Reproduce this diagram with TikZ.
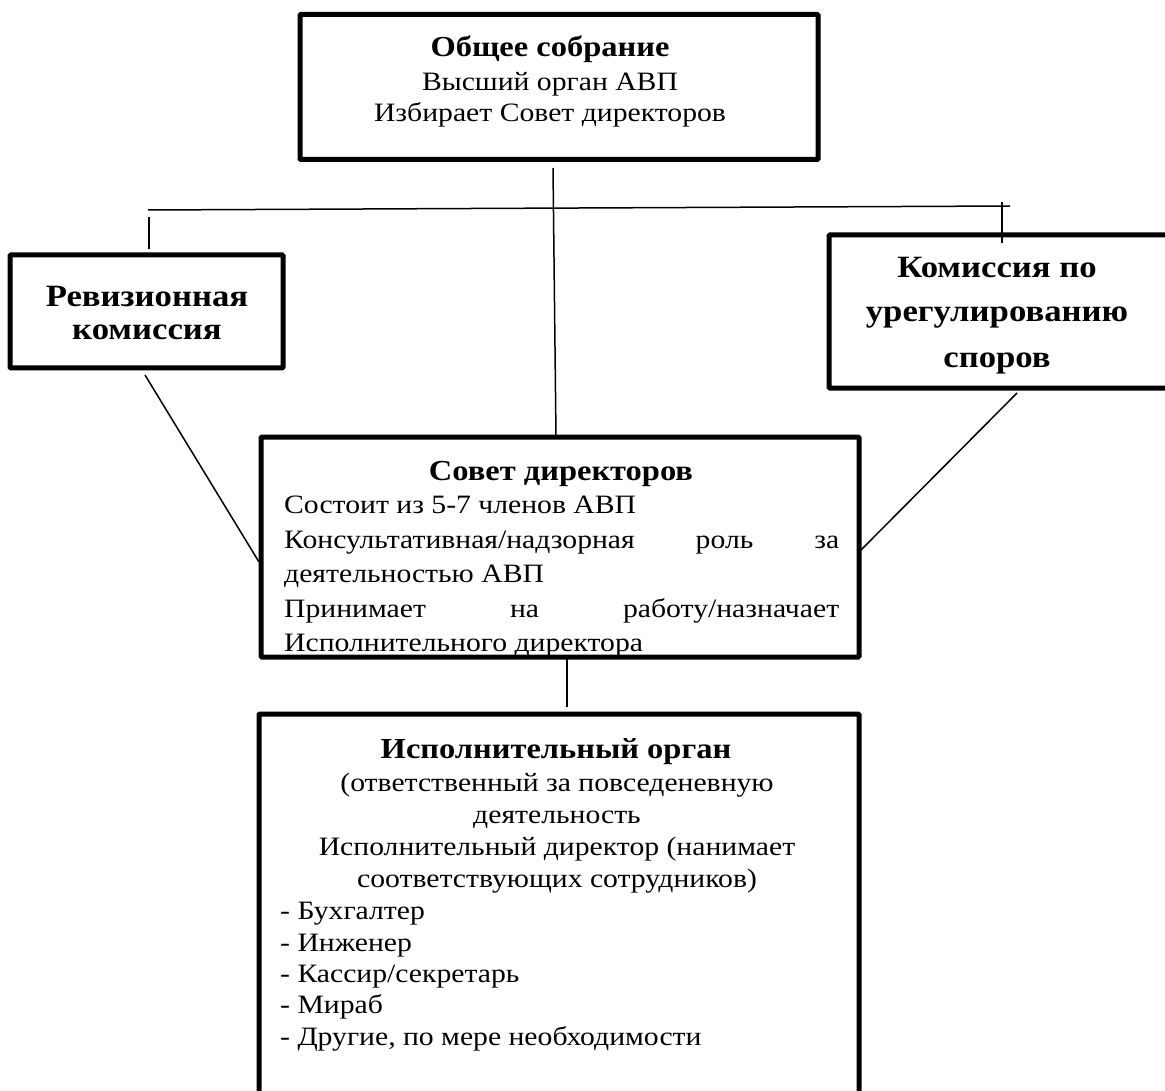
\documentclass[tikz,border=0pt]{standalone}
\usepackage{fontspec}
\setmainfont{Liberation Serif}[FakeStretch=1.12]
\tikzset{
  box/.style={draw, line width=5pt, rectangle, rounded corners=1pt, inner sep=0pt},
  conn/.style={line width=1.5pt},
  reg/.style={font=\fontsize{26.5}{30}\selectfont, inner sep=0pt, anchor=base},
  regl/.style={reg, anchor=base west},
  ttl/.style={font=\fontsize{29}{34}\selectfont\bfseries, inner sep=0pt, anchor=base},
  sttl/.style={font=\fontsize{31}{36}\selectfont\bfseries, inner sep=0pt, anchor=base},
}
\begin{document}
\begin{tikzpicture}[x=1pt,y=-1pt]
\useasboundingbox (0,0) rectangle (1165,1091);
\clip (0,0) rectangle (1165,1091);
\fill[white] (0,0) rectangle (1165,1091);

% boxes
\node[box, minimum width=518pt, minimum height=145pt] (gen) at (559,87) {};
\node[box, minimum width=273pt, minimum height=113pt] (rev) at (146.5,311.5) {};
\node[box, minimum width=342pt, minimum height=153pt] (kom) at (1000,311.5) {};
\node[box, minimum width=598pt, minimum height=220pt] (sov) at (560,547) {};
\node[box, minimum width=600pt, minimum height=386pt] (isp) at (559,907) {};

% connector coordinates
\coordinate (hl) at (148,210);
\coordinate (hr) at (1010,206);
\coordinate (tl1) at (149,217);
\coordinate (tl2) at (149,249);
\coordinate (tr1) at (1002,202);
\coordinate (tr2) at (1002,243);
\coordinate (v1) at (553,168);
\coordinate (v2) at (556,437);
\coordinate (dl1) at (145,375);
\coordinate (dl2) at (259,562);
\coordinate (dr1) at (1017,393);
\coordinate (dr2) at (861,550);
\coordinate (b1) at (567,659);
\coordinate (b2) at (567,707);

\draw[conn] (hl) -- (hr);
\draw[conn] (tl1) -- (tl2);
\draw[conn] (tr1) -- (tr2);
\draw[conn] (v1) -- (v2);
\draw[conn] (dl1) -- (dl2);
\draw[conn] (dr1) -- (dr2);
\draw[conn] (b1) -- (b2);

% texts: top box
\node[ttl] (gen-t) at (550,57) {Общее собрание};
\node[reg] (gen-1) at (550,91) {Высший орган АВП};
\node[reg] (gen-2) at (550,122) {Избирает Совет директоров};

% revision commission
\node[sttl] (rev-1) at (147,307) {Ревизионная};
\node[sttl] (rev-2) at (147,340) {комиссия};

% dispute commission
\node[sttl] (kom-1) at (997,278) {Комиссия по};
\node[sttl] (kom-2) at (997,322) {урегулированию};
\node[sttl] (kom-3) at (997,367) {споров};

% board
\node[ttl] (sov-t) at (561,480) {Совет директоров};
\node[regl] (sov-1) at (284,513) {Состоит из 5-7 членов АВП};
\node[regl] (sov-2) at (284,548) {\hbox to 555pt{Консультативная/надзорная\hfill роль\hfill за}};
\node[regl] (sov-3) at (284,582) {деятельностью АВП};
\node[regl] (sov-4) at (284,617) {\hbox to 555pt{Принимает\hfill на\hfill работу/назначает}};
\node[regl] (sov-5) at (284,651) {Исполнительного директора};

% executive body
\node[ttl] (isp-t) at (556,758) {Исполнительный орган};
\node[reg] (isp-1) at (557,791) {(ответственный за повседеневную};
\node[reg] (isp-2) at (557,823) {деятельность};
\node[reg] (isp-3) at (557,855) {Исполнительный директор (нанимает};
\node[reg] (isp-4) at (557,887) {соответствующих сотрудников)};
\node[regl] (isp-5) at (280,919) {- Бухгалтер};
\node[regl] (isp-6) at (280,951) {- Инженер};
\node[regl] (isp-7) at (280,982) {- Кассир/секретарь};
\node[regl] (isp-8) at (280,1013) {- Мираб};
\node[regl] (isp-9) at (280,1045) {- Другие, по мере необходимости};
\end{tikzpicture}
\end{document}
